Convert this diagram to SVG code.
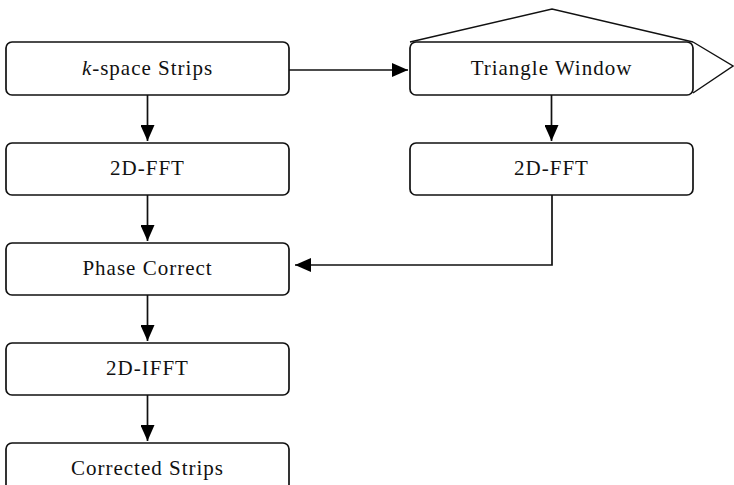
<svg xmlns="http://www.w3.org/2000/svg" width="734" height="485" viewBox="0 0 734 485">
<defs>
<marker id="ah" viewBox="0 0 16 14" refX="16" refY="7" markerWidth="16" markerHeight="14" markerUnits="userSpaceOnUse" orient="auto">
<path d="M0,0 L16,7 L0,14 Z" fill="#000"/>
</marker>
<style>
.box{fill:#fff;stroke:#111;stroke-width:1.7}
.lbl{font-family:"Liberation Serif","Times New Roman",serif;font-size:21px;letter-spacing:1px;fill:#111;text-anchor:middle}
.con{fill:none;stroke:#111;stroke-width:1.7;marker-end:url(#ah)}
.deco{fill:none;stroke:#111;stroke-width:1.4}
</style>
</defs>
<rect width="734" height="485" fill="#fff"/>
<g id="connectors">
<path class="con" d="M147.5,95 V141"/>
<path class="con" d="M147.5,195 V241"/>
<path class="con" d="M147.5,295 V341"/>
<path class="con" d="M147.5,395 V441"/>
<path class="con" d="M551.5,95 V141"/>
<path class="con" d="M289,70 H408"/>
<path class="con" d="M552,195 V265 H295"/>
</g>
<g id="n1"><rect class="box" x="6" y="42" width="283" height="53" rx="6"/><text class="lbl" x="147.5" y="74.5"><tspan font-style="italic">k</tspan>-space Strips</text></g>
<g id="n2"><rect class="box" x="6" y="143" width="283" height="52" rx="6"/><text class="lbl" x="147.5" y="175">2D-FFT</text></g>
<g id="n3"><rect class="box" x="6" y="243" width="283" height="52" rx="6"/><text class="lbl" x="147.5" y="275">Phase Correct</text></g>
<g id="n4"><rect class="box" x="6" y="343" width="283" height="52" rx="6"/><text class="lbl" x="147.5" y="375">2D-IFFT</text></g>
<g id="n5"><rect class="box" x="6" y="443" width="283" height="60" rx="6"/><text class="lbl" x="147.5" y="475">Corrected Strips</text></g>
<g id="n6">
<path class="deco" d="M410,42 L552,9 L693,42"/>
<path class="deco" d="M693,42 L733,66 L693,93"/>
<rect class="box" x="410" y="42" width="283" height="53" rx="6"/>
<text class="lbl" x="551.5" y="74.5">Triangle Window</text>
</g>
<g id="n7"><rect class="box" x="410" y="143" width="283" height="52" rx="6"/><text class="lbl" x="551.5" y="175">2D-FFT</text></g>
</svg>
